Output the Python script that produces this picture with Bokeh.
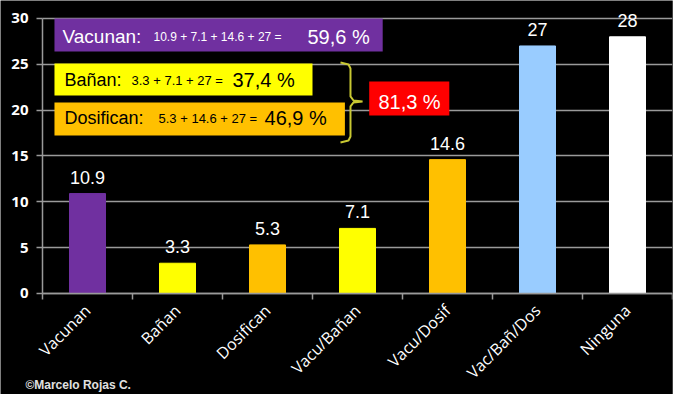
import math
from bokeh.plotting import figure
from bokeh.models import ColumnDataSource, FixedTicker, LabelSet, Label, BoxAnnotation
from bokeh.core.properties import value
from bokeh.embed import file_html
from bokeh.resources import INLINE

categories = ["Vacunan", "Bañan", "Dosifican", "Vacu/Bañan", "Vacu/Dosif", "Vac/Bañ/Dos", "Ninguna"]
values = [10.9, 3.3, 5.3, 7.1, 14.6, 27, 28]
value_labels = ["10.9", "3.3", "5.3", "7.1", "14.6", "27", "28"]
bar_colors = ["#7030a0", "#ffff00", "#ffc000", "#ffff00", "#ffc000", "#99ccff", "#ffffff"]
y_ticks = [0, 5, 10, 15, 20, 25, 30]

positions = list(range(len(categories)))
boundaries = [i - 0.5 for i in range(len(categories) + 1)]
X_LEFT, X_RIGHT = -0.5, len(categories) - 0.5

GRID = "#9a9a9a"
ARIAL = "Liberation Sans"
Y_LOW = -11.02    # room below zero for the rotated category labels and the note
Y_HIGH = 31.96    # room above 30 for the top tick label
X_LOW = -0.9667   # room left of the axis for the value tick labels

src = ColumnDataSource(dict(x=positions, top=values, color=bar_colors, label=value_labels))

p = figure(width=673, height=394, x_range=(X_LOW, X_RIGHT), y_range=(Y_LOW, Y_HIGH),
           output_backend="svg", toolbar_location=None,
           background_fill_color="black", border_fill_color="black",
           min_border_left=0, min_border_right=1, min_border_top=0, min_border_bottom=0)
p.outline_line_color = None

p.vbar(x="x", top="top", width=0.4, color="color", source=src)

# axes
xa = p.xaxis[0]
xa.fixed_location = 0
xa.bounds = (X_LEFT, X_RIGHT)
xa.ticker = FixedTicker(ticks=positions, minor_ticks=boundaries)
xa.major_label_overrides = {i: c for i, c in zip(positions, categories)}
xa.major_label_orientation = math.pi / 4
xa.major_tick_line_color = None
xa.minor_tick_line_color = GRID
xa.minor_tick_line_width = 1.5
xa.minor_tick_in = 0
xa.minor_tick_out = 6
xa.axis_line_color = GRID
xa.axis_line_width = 1.5
xa.major_label_text_color = "white"
xa.major_label_text_font = "Open Sans"
xa.major_label_text_font_size = "16px"
xa.major_label_standoff = 8

ya = p.yaxis[0]
ya.fixed_location = X_LEFT
ya.bounds = (0, 30)
ya.ticker = FixedTicker(ticks=y_ticks, minor_ticks=[])
ya.major_tick_line_color = GRID
ya.major_tick_line_width = 1.5
ya.major_tick_in = 0
ya.major_tick_out = 6
ya.minor_tick_line_color = None
ya.axis_line_color = GRID
ya.axis_line_width = 1.5
ya.major_label_text_color = "white"
ya.major_label_text_font = "Open Sans"
ya.major_label_text_font_size = "15px"
ya.major_label_text_font_style = "bold"
ya.major_label_standoff = 8

p.xgrid.grid_line_color = None
yg = p.ygrid[0]
if "cross_bounds" in yg.properties():
    yg.cross_bounds = (X_LEFT, X_RIGHT)
    yg.grid_line_color = GRID
    yg.grid_line_width = 1.5
else:
    yg.grid_line_color = None
    p.segment(x0=[X_LEFT] * len(y_ticks), x1=[X_RIGHT] * len(y_ticks), y0=y_ticks, y1=y_ticks,
              line_color=GRID, line_width=1.5, level="underlay")

# value labels
p.add_layout(LabelSet(x="x", y="top", text="label", source=src, y_offset=10,
                      text_align="center", text_baseline="alphabetic",
                      text_color="white", text_font=value(ARIAL), text_font_size="18px"))

# annotation boxes
p.add_layout(BoxAnnotation(left=-0.367, right=3.28, bottom=26.4, top=30,
                           fill_color="#7030a0", fill_alpha=1, line_color=None))
p.add_layout(BoxAnnotation(left=-0.367, right=2.5, bottom=21.6, top=25.1,
                           fill_color="#ffff00", fill_alpha=1, line_color=None))
p.add_layout(BoxAnnotation(left=-0.367, right=2.86, bottom=17.24, top=20.84,
                           fill_color="#ffc000", fill_alpha=1, line_color=None))
p.add_layout(BoxAnnotation(left=3.13, right=4.02, bottom=19.42, top=23.13,
                           fill_color="#ff0000", fill_alpha=1, line_color=None))

def txt(x, y, s, size, color, align="left", style="normal", baseline="alphabetic"):
    p.add_layout(Label(x=x, y=y, text=s, text_font=ARIAL, text_font_size=size,
                       text_font_style=style, text_color=color, text_align=align,
                       text_baseline=baseline))

txt(-0.278, 28.0, "Vacunan:", "19px", "white")
txt(0.733, 28.0, "10.9 + 7.1 + 14.6 + 27 =", "12px", "white")
txt(2.444, 28.0, "59,6 %", "20px", "white")

txt(-0.256, 23.25, "Bañan:", "18px", "black")
txt(0.489, 23.25, "3.3 + 7.1 + 27 =", "13px", "black")
txt(1.611, 23.25, "37,4 %", "20px", "black")

txt(-0.256, 19.1, "Dosifican:", "18px", "black")
txt(0.789, 19.1, "5.3 + 14.6 + 27 =", "13px", "black")
txt(1.967, 19.1, "46,9 %", "20px", "black")

txt(3.578, 20.9, "81,3 %", "20px", "white", align="center")

# brace
bx = [2.811, 2.9, 2.922, 2.922, 2.956, 3.056, 2.956, 2.922, 2.922, 2.9, 2.811]
by = [25.2, 24.98, 24.55, 21.49, 21.05, 20.95, 20.84, 20.4, 17.13, 16.69, 16.47]
p.line(bx, by, line_color="#c8c832", line_width=2)

# copyright note at the bottom-left
txt(-0.69, Y_LOW + 0.25, "©Marcelo Rojas C.", "12px", "#e0e0e0", style="bold", baseline="bottom")

open("out.html", "w").write(file_html(p, INLINE))
